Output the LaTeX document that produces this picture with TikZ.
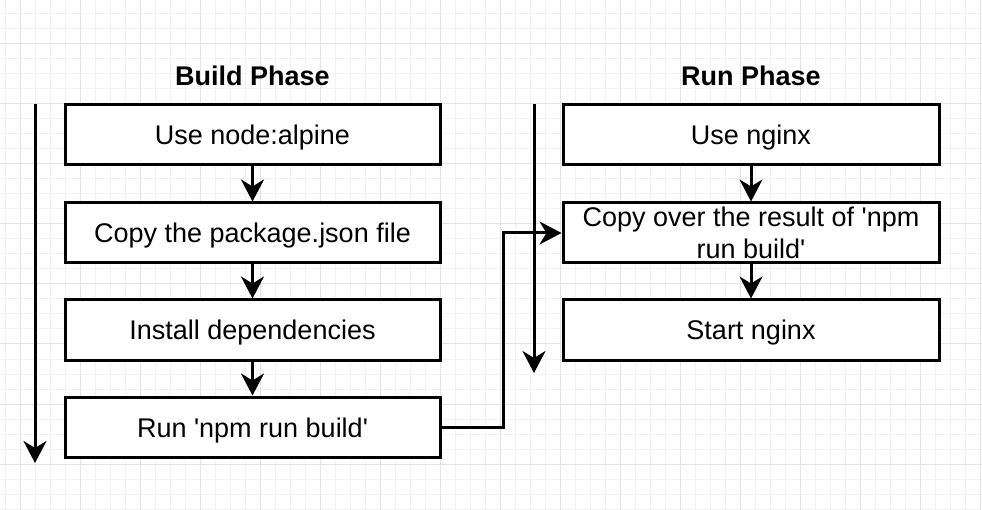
\documentclass[tikz,border=0pt]{standalone}
\usepackage{fontspec}
\setmainfont{Liberation Sans}
\usetikzlibrary{arrows.meta}
\begin{document}
\begin{tikzpicture}[x=1pt,y=-1pt,
  boxbase/.style={draw=black, line width=3pt, fill=white, minimum width=375pt, minimum height=60pt, inner sep=0pt, align=center, font=\fontsize{27}{32}\selectfont},
  box/.style={boxbase, text height=20pt, text depth=0pt},
  rbox/.style={box, minimum width=376pt},
  rboxtwo/.style={boxbase, minimum width=376pt},
  phasetitle/.style={font=\fontsize{27}{32}\selectfont\bfseries, inner sep=0pt},
  flow/.style={line width=3pt, -{Stealth[length=22pt,width=23pt,inset=7pt]}},
  minorgrid/.style={draw=black!5, line width=1pt},
  majorgrid/.style={draw=black!11, line width=1pt},
]
\fill[white] (0,0) rectangle (982,510);
\useasboundingbox (0,0) rectangle (982,510);
% grid
\foreach \gx in {5,20,...,980} {\draw[minorgrid] (\gx,0) -- (\gx,510);}
\foreach \gy in {14,29,...,509} {\draw[minorgrid] (0,\gy) -- (982,\gy);}
\foreach \gx in {20,80,...,980} {\draw[majorgrid] (\gx,0) -- (\gx,510);}
\foreach \gy in {44,104,...,464} {\draw[majorgrid] (0,\gy) -- (982,\gy);}

% titles
\node[phasetitle] (tb) at (252.5,76) {Build Phase};
\node[phasetitle] (tr) at (751,76) {Run Phase};

% build phase boxes
\node[box] (b1) at (252.5,135) {Use node:alpine};
\node[box] (b2) at (252.5,233) {Copy the package.json file};
\node[box] (b3) at (252.5,330) {Install dependencies};
\node[box] (b4) at (252.5,427) {Run \textquotesingle npm run build\textquotesingle};

% run phase boxes
\node[rbox] (r1) at (751,135) {Use nginx};
\node[rboxtwo] (r2) at (751,233) {Copy over the result of \textquotesingle npm\\run build\textquotesingle};
\node[rbox] (r3) at (751,330) {Start nginx};

% phase arrows
\coordinate (bs) at (35,104);
\coordinate (be) at (35,463);
\coordinate (rs) at (534,104);
\coordinate (re) at (534,373);
\draw[flow] (bs) -- (be);
\draw[flow] (rs) -- (re);

% step arrows
\draw[flow] (b1) -- (b2);
\draw[flow] (b2) -- (b3);
\draw[flow] (b3) -- (b4);
\draw[flow] (r1) -- (r2);
\draw[flow] (r2) -- (r3);

% connector between phases
\draw[flow] (b4.east) -- ++(62,0) |- (r2.west);
\end{tikzpicture}
\end{document}
